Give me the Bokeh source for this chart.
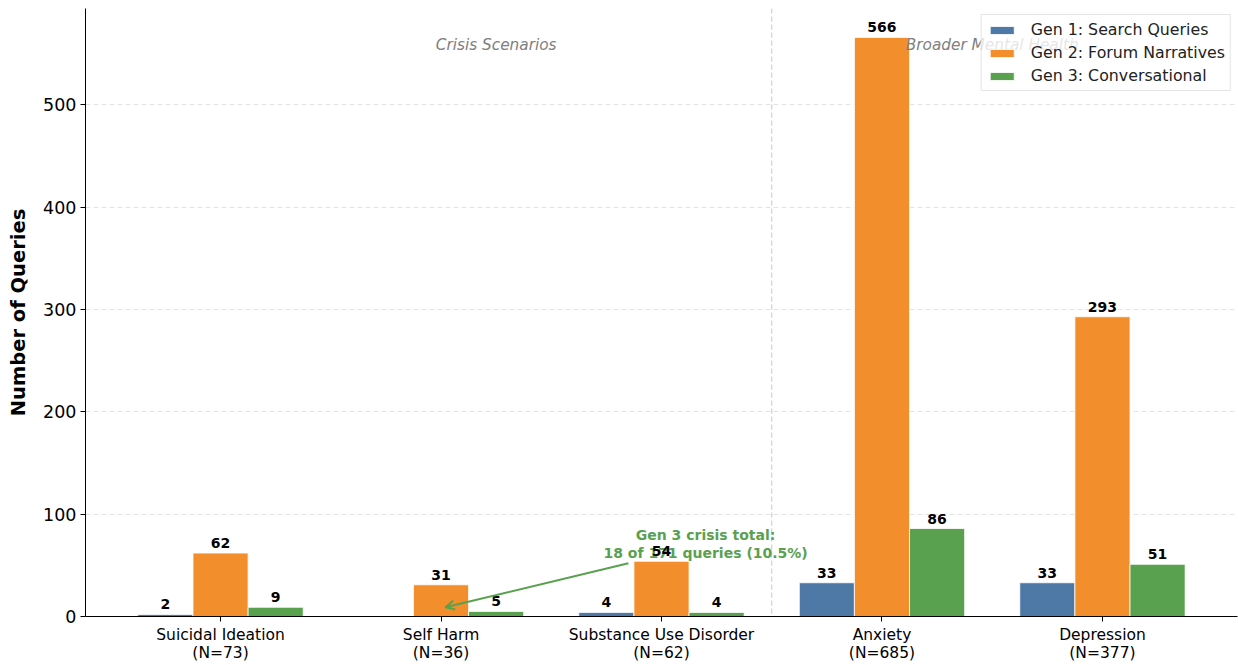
from bokeh.plotting import figure
from bokeh.models import (ColumnDataSource, FixedTicker, Span, Arrow, OpenHead,
                          Legend, LegendItem, Range1d)
from bokeh.embed import file_html
from bokeh.resources import INLINE
from bokeh.core.properties import value

# ---------------- data ----------------
categories = ["Suicidal Ideation", "Self Harm", "Substance Use Disorder", "Anxiety", "Depression"]
category_n = [73, 36, 62, 685, 377]
gen1 = [2, 0, 4, 33, 33]
gen2 = [62, 31, 54, 566, 293]
gen3 = [9, 5, 4, 86, 51]
series_names = ["Gen 1: Search Queries", "Gen 2: Forum Narratives", "Gen 3: Conversational"]
series_colors = ["#4e79a7", "#f28e2b", "#59a14f"]
y_ticks = [0, 100, 200, 300, 400, 500]
section_names = ["Crisis Scenarios", "Broader Mental Health"]
crisis_count = 3  # first three categories are crisis scenarios

FONT = "DejaVu Sans"
series = [gen1, gen2, gen3]
n_cat = len(categories)
positions = list(range(n_cat))
bar_w = 0.25
offsets = [-bar_w, 0.0, bar_w]
ymax = max(max(s) for s in series) * 1.05

p = figure(width=1238, height=665, output_backend="svg", toolbar_location=None,
           x_range=Range1d(-0.375 - 0.2375, n_cat - 1 + 0.375 + 0.2375),
           y_range=Range1d(0, ymax),
           min_border_left=85, min_border_right=1, min_border_top=8, min_border_bottom=49)
p.outline_line_color = None
p.background_fill_color = "white"
p.border_fill_color = "white"

# grid
p.xgrid.visible = False
p.ygrid.grid_line_color = "#b0b0b0"
p.ygrid.grid_line_alpha = 0.35
p.ygrid.grid_line_dash = "5 3"
p.ygrid.ticker = FixedTicker(ticks=y_ticks)

# bars
legend_items = []
for s_vals, name, col, off in zip(series, series_names, series_colors, offsets):
    src = ColumnDataSource(dict(x=[x + off for x in positions], top=s_vals))
    r = p.vbar(x="x", top="top", width=bar_w, source=src, fill_color=col,
               line_color="white", line_width=0.8)
    legend_items.append(LegendItem(label=name, renderers=[r]))

# divider
divider_x = crisis_count - 0.5
p.add_layout(Span(location=divider_x, dimension="height", line_color="gray",
                  line_alpha=0.45, line_dash="5 3", line_width=1))

# section labels
sec_src = ColumnDataSource(dict(x=[(-0.5 + divider_x) / 2 + 0.25, (divider_x + n_cat - 0.5) / 2],
                                y=[ymax * 0.94, ymax * 0.94], text=section_names))
p.text(x="x", y="y", text="text", source=sec_src, text_align="center", text_baseline="middle",
       text_font=value(FONT), text_font_style="italic", text_font_size="15.3px", text_color="#808080")

# annotation
crisis_g3 = sum(gen3[:crisis_count])
crisis_total = sum(category_n[:crisis_count])
ann_text = f"Gen 3 crisis total:\n{crisis_g3} of {crisis_total} queries ({100 * crisis_g3 / crisis_total:.1f}%)"
ann_src = ColumnDataSource(dict(x=[2.2], y=[71], text=[ann_text]))
p.text(x="x", y="y", text="text", source=ann_src, text_align="center", text_baseline="middle",
       text_font=value(FONT), text_font_style="bold", text_font_size="14px",
       text_color="#59a14f", text_line_height=1.15)
p.add_layout(Arrow(end=OpenHead(size=9, line_color="#59a14f", line_width=2),
                   x_start=1.85, y_start=52, x_end=1.02, y_end=9,
                   line_color="#59a14f", line_width=2))

# value labels
for s_vals, off in zip(series, offsets):
    xs = [x + off for x, v in zip(positions, s_vals) if v > 0]
    ys = [v for v in s_vals if v > 0]
    src = ColumnDataSource(dict(x=xs, y=ys, text=[str(v) for v in ys]))
    p.text(x="x", y="y", text="text", source=src, text_align="center", text_baseline="bottom",
           y_offset=-5, text_font=value(FONT), text_font_style="bold", text_font_size="14px",
           text_color="black")

# axes
p.xaxis.ticker = FixedTicker(ticks=positions)
p.xaxis.major_label_overrides = {i: f"{c}\n(N={n})" for i, (c, n) in enumerate(zip(categories, category_n))}
p.yaxis.ticker = FixedTicker(ticks=y_ticks)
for ax in (p.xaxis[0], p.yaxis[0]):
    ax.axis_line_color = "black"
    ax.axis_line_width = 1
    ax.major_tick_line_color = "black"
    ax.major_tick_out = 5
    ax.major_tick_in = 0
    ax.minor_tick_line_color = None
    ax.major_label_text_color = "black"
    ax.major_label_text_font = FONT
    ax.major_label_standoff = 4
p.xaxis.major_label_text_font_size = "15.5px"
p.xaxis.major_label_text_line_height = 1.05
p.yaxis.major_label_text_font_size = "17.5px"
p.yaxis.axis_label = "Number of Queries"
p.yaxis.axis_label_text_font = FONT
p.yaxis.axis_label_text_font_style = "bold"
p.yaxis.axis_label_text_font_size = "19.5px"
p.yaxis.axis_label_text_color = "black"
p.yaxis.axis_label_standoff = 10

legend = Legend(items=legend_items, location="top_right", margin=6,
                label_text_font=FONT, label_text_font_size="15.8px", label_text_color="#222222",
                glyph_width=30, glyph_height=10, label_height=16, spacing=4, padding=5,
                label_standoff=14, border_line_color="#cccccc", border_line_width=1,
                background_fill_alpha=0.8)
p.add_layout(legend)

open("out.html", "w").write(file_html(p, INLINE))
